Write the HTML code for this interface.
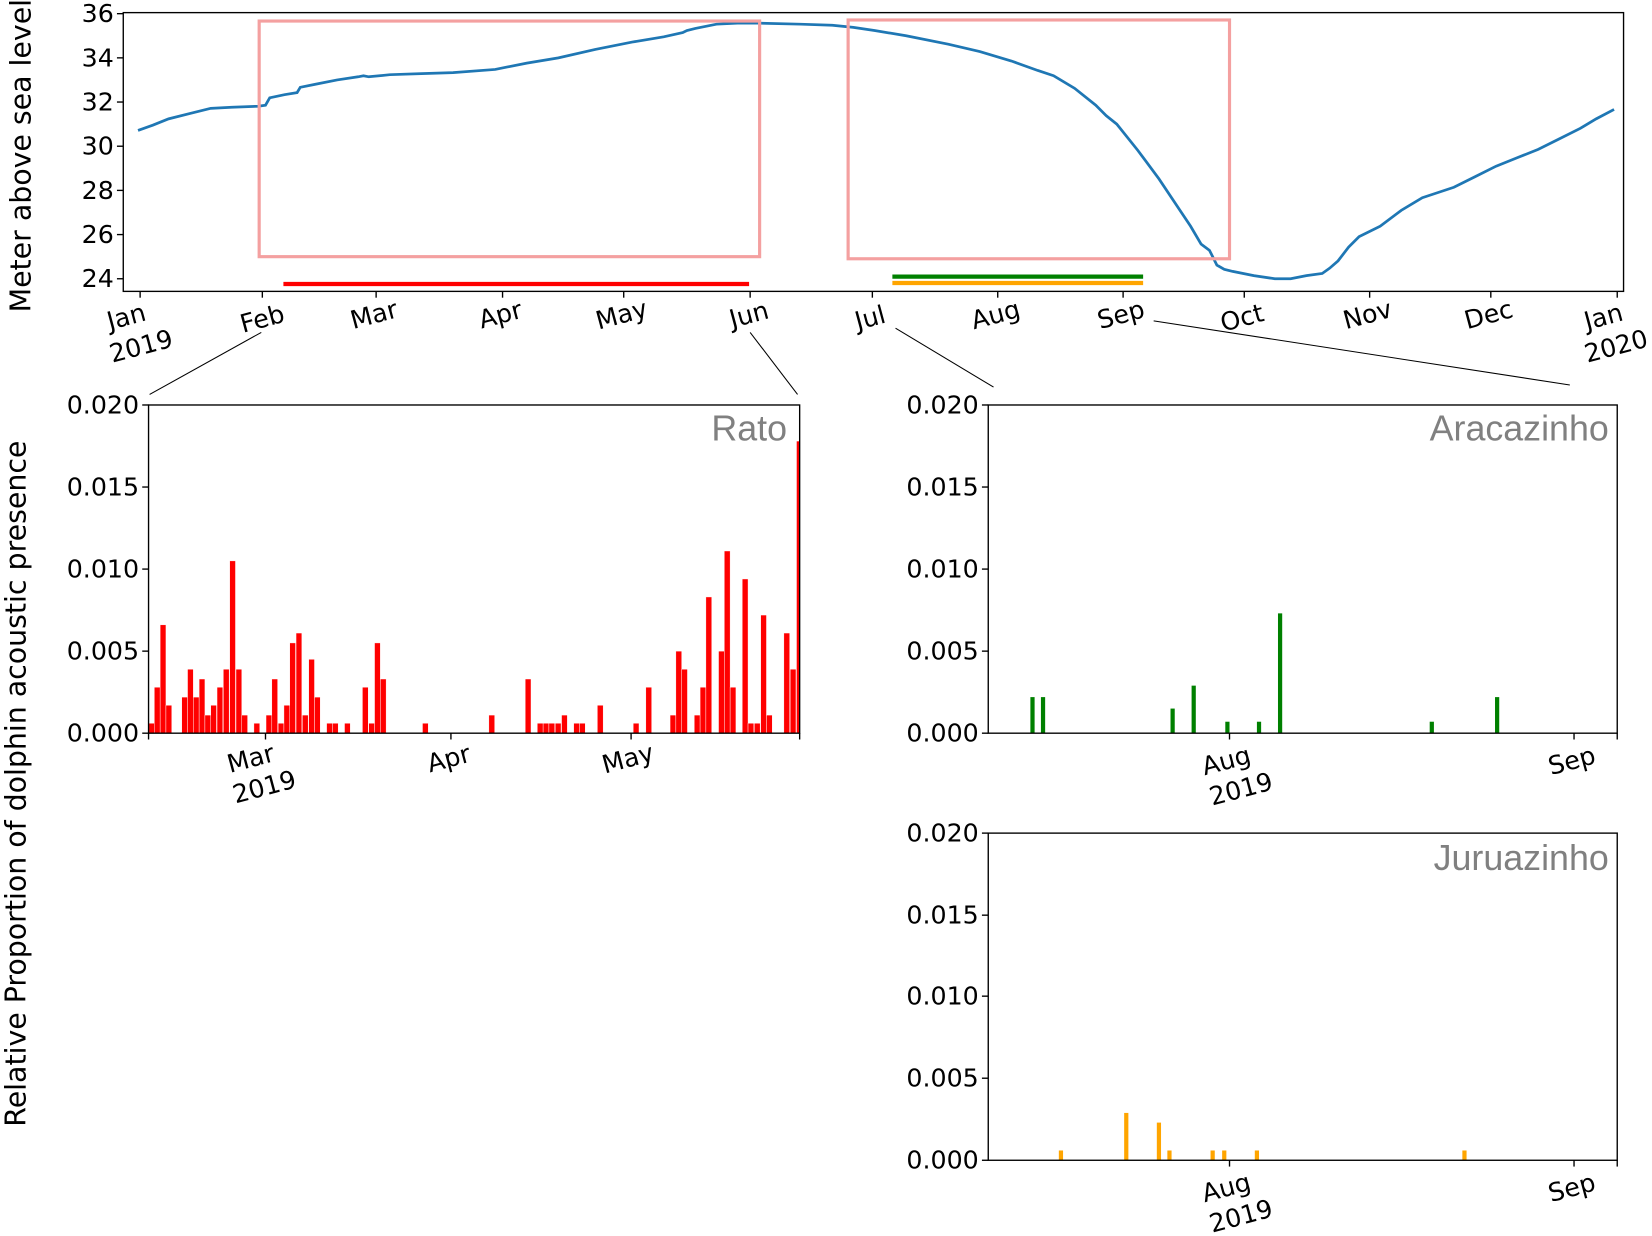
<!DOCTYPE html>
<html><head><meta charset="utf-8"><style>
html,body{margin:0;padding:0;background:#fff;}
svg{display:block;}
text{font-family:"DejaVu Sans","Liberation Sans",sans-serif;fill:#000;}
.t{font-size:24px;}
.site{font-family:"Liberation Sans",sans-serif;font-size:34px;fill:#808080;}
</style></head><body>
<svg width="1652" height="1236" viewBox="0 0 1568 1175" preserveAspectRatio="none" xmlns="http://www.w3.org/2000/svg">
<!-- TOP CHART -->
<rect x="117" y="12" width="1424" height="265" fill="none" stroke="#000" stroke-width="1.3"/>
<g stroke="#000" stroke-width="1.3">
<line x1="111" y1="13" x2="117" y2="13"/><line x1="111" y1="55" x2="117" y2="55"/><line x1="111" y1="97" x2="117" y2="97"/><line x1="111" y1="139" x2="117" y2="139"/><line x1="111" y1="181" x2="117" y2="181"/><line x1="111" y1="223" x2="117" y2="223"/><line x1="111" y1="265" x2="117" y2="265"/>
<line x1="133" y1="277" x2="133" y2="283"/><line x1="249" y1="277" x2="249" y2="283"/><line x1="357" y1="277" x2="357" y2="283"/><line x1="477" y1="277" x2="477" y2="283"/><line x1="592" y1="277" x2="592" y2="283"/><line x1="712" y1="277" x2="712" y2="283"/><line x1="828" y1="277" x2="828" y2="283"/><line x1="947" y1="277" x2="947" y2="283"/><line x1="1066" y1="277" x2="1066" y2="283"/><line x1="1181" y1="277" x2="1181" y2="283"/><line x1="1300" y1="277" x2="1300" y2="283"/><line x1="1415" y1="277" x2="1415" y2="283"/><line x1="1535" y1="277" x2="1535" y2="283"/>
</g>
<g class="t" text-anchor="end">
<text x="108" y="21">36</text><text x="108" y="63">34</text><text x="108" y="105">32</text><text x="108" y="147">30</text><text x="108" y="189">28</text><text x="108" y="231">26</text><text x="108" y="273">24</text>
</g>
<g class="t" text-anchor="middle">
<text transform="translate(122,309) rotate(-15)">Jan</text>
<text transform="translate(136,337) rotate(-15)">2019</text>
<text transform="translate(251,311) rotate(-15)">Feb</text>
<text transform="translate(357,307) rotate(-15)">Mar</text>
<text transform="translate(477,307) rotate(-15)">Apr</text>
<text transform="translate(592,307) rotate(-15)">May</text>
<text transform="translate(713,307) rotate(-15)">Jun</text>
<text transform="translate(828,310) rotate(-15)">Jul</text>
<text transform="translate(947,307) rotate(-15)">Aug</text>
<text transform="translate(1066,307) rotate(-15)">Sep</text>
<text transform="translate(1181,310) rotate(-15)">Oct</text>
<text transform="translate(1300,307) rotate(-15)">Nov</text>
<text transform="translate(1415,307) rotate(-15)">Dec</text>
<text transform="translate(1524,309) rotate(-15)">Jan</text>
<text transform="translate(1536,337) rotate(-15)">2020</text>
</g>
<text transform="translate(29,148) rotate(-90)" text-anchor="middle" style="font-size:27px">Meter above sea level</text>
<polyline fill="none" stroke="#1f77b4" stroke-width="2.6" points="131,124 145,119 160,113 180,108 200,103 220,102 245,101 252,100 256,93 270,90 282,88 285,83 300,80 320,76 340,73 345,72 350,73 370,71 400,70 430,69 470,66 500,60 530,55 565,47 600,40 630,35 648,31 652,29 660,27 680,23 700,22 720,22 760,23 790,24 810,26 830,29 860,34 900,42 930,49 960,58 985,67 1000,72 1020,84 1040,100 1050,110 1060,118 1080,143 1100,170 1120,200 1130,215 1140,232 1148,238 1155,252 1162,256 1170,258 1190,262 1210,265 1225,265 1240,262 1255,260 1262,255 1270,248 1280,235 1290,225 1310,215 1330,200 1350,188 1365,183 1380,178 1400,168 1420,158 1440,150 1460,142 1480,132 1500,122 1515,113 1532,104"/>
<rect x="246" y="20" width="475" height="224" fill="none" stroke="#f4a0a0" stroke-width="3"/>
<rect x="805" y="19" width="362" height="227" fill="none" stroke="#f4a0a0" stroke-width="3"/>
<line x1="269" y1="270" x2="711" y2="270" stroke="#ff0000" stroke-width="4"/>
<line x1="847" y1="263" x2="1085" y2="263" stroke="#008000" stroke-width="4"/>
<line x1="847" y1="269" x2="1085" y2="269" stroke="#ffa500" stroke-width="4"/>
<!-- connectors -->
<g stroke="#000" stroke-width="1">
<line x1="248" y1="316" x2="142" y2="375"/><line x1="712" y1="316" x2="757" y2="375"/>
<line x1="850" y1="312" x2="943" y2="368"/><line x1="1095" y1="305" x2="1490" y2="366"/>
</g>
<text transform="translate(24,745) rotate(-90)" text-anchor="middle" style="font-size:27px">Relative Proportion of dolphin acoustic presence</text>

<!-- RATO -->
<g transform="translate(0,697) scale(1,-1)" fill="#ff0000" stroke="#fff" stroke-width="0.4">
<rect x="141.3" y="0" width="5.5" height="9.4"/><rect x="146.5" y="0" width="5.5" height="43.7"/><rect x="152" y="0" width="5.5" height="103"/><rect x="157.5" y="0" width="5.5" height="26.5"/>
<rect x="172.5" y="0" width="5.5" height="34.3"/><rect x="178" y="0" width="5.5" height="60.8"/><rect x="183.5" y="0" width="5.5" height="34.3"/><rect x="189" y="0" width="5.5" height="51.5"/><rect x="194.5" y="0" width="5.5" height="17.2"/><rect x="200" y="0" width="5.5" height="26.5"/><rect x="206" y="0" width="5.5" height="43.7"/><rect x="212" y="0" width="5.5" height="60.8"/><rect x="218" y="0" width="5.5" height="163.8"/><rect x="224" y="0" width="5.5" height="60.8"/><rect x="229.5" y="0" width="5.5" height="17.2"/>
<rect x="241" y="0" width="5.5" height="9.4"/><rect x="252.5" y="0" width="5.5" height="17.2"/><rect x="258" y="0" width="5.5" height="51.5"/><rect x="264" y="0" width="5.5" height="9.4"/><rect x="269.5" y="0" width="5.5" height="26.5"/><rect x="275" y="0" width="5.5" height="85.8"/><rect x="281" y="0" width="5.5" height="95.2"/><rect x="287" y="0" width="5.5" height="17.2"/><rect x="293" y="0" width="5.5" height="70.2"/><rect x="298.5" y="0" width="5.5" height="34.3"/>
<rect x="310" y="0" width="5.5" height="9.4"/><rect x="315.5" y="0" width="5.5" height="9.4"/><rect x="327" y="0" width="5.5" height="9.4"/><rect x="344" y="0" width="5.5" height="43.7"/><rect x="350" y="0" width="5.5" height="9.4"/><rect x="355.5" y="0" width="5.5" height="85.8"/><rect x="361" y="0" width="5.5" height="51.5"/>
<rect x="401" y="0" width="5.5" height="9.4"/><rect x="464" y="0" width="5.5" height="17.2"/><rect x="498.5" y="0" width="5.5" height="51.5"/>
<rect x="510" y="0" width="5.5" height="9.4"/><rect x="515.5" y="0" width="5.5" height="9.4"/><rect x="521" y="0" width="5.5" height="9.4"/><rect x="527" y="0" width="5.5" height="9.4"/><rect x="533" y="0" width="5.5" height="17.2"/><rect x="544.5" y="0" width="5.5" height="9.4"/><rect x="550" y="0" width="5.5" height="9.4"/><rect x="567" y="0" width="5.5" height="26.5"/>
<rect x="601" y="0" width="5.5" height="9.4"/><rect x="613" y="0" width="5.5" height="43.7"/><rect x="636" y="0" width="5.5" height="17.2"/><rect x="641.5" y="0" width="5.5" height="78"/><rect x="647" y="0" width="5.5" height="60.8"/><rect x="659" y="0" width="5.5" height="17.2"/><rect x="664.5" y="0" width="5.5" height="43.7"/><rect x="670" y="0" width="5.5" height="129.5"/><rect x="682" y="0" width="5.5" height="78"/><rect x="687.5" y="0" width="5.5" height="173.2"/><rect x="693" y="0" width="5.5" height="43.7"/><rect x="704.5" y="0" width="5.5" height="146.6"/><rect x="710" y="0" width="5.5" height="9.4"/><rect x="716" y="0" width="5.5" height="9.4"/><rect x="722" y="0" width="5.5" height="112.3"/><rect x="727.5" y="0" width="5.5" height="17.2"/><rect x="744" y="0" width="5.5" height="95.2"/><rect x="750" y="0" width="5.5" height="60.8"/><rect x="756" y="0" width="3" height="277.7"/>
</g>
<rect x="141" y="385" width="618" height="312" fill="none" stroke="#000" stroke-width="1.3"/>
<g stroke="#000" stroke-width="1.3">
<line x1="135" y1="385" x2="141" y2="385"/><line x1="135" y1="463" x2="141" y2="463"/><line x1="135" y1="541" x2="141" y2="541"/><line x1="135" y1="619" x2="141" y2="619"/><line x1="135" y1="697" x2="141" y2="697"/>
<line x1="141" y1="697" x2="141" y2="703"/><line x1="252" y1="697" x2="252" y2="703"/><line x1="428" y1="697" x2="428" y2="703"/><line x1="599" y1="697" x2="599" y2="703"/><line x1="759" y1="697" x2="759" y2="703"/>
</g>
<g class="t" text-anchor="end">
<text x="132" y="393">0.020</text><text x="132" y="471">0.015</text><text x="132" y="549">0.010</text><text x="132" y="627">0.005</text><text x="132" y="705">0.000</text>
</g>
<g class="t" text-anchor="middle">
<text transform="translate(240,729) rotate(-15)">Mar</text>
<text transform="translate(253,756) rotate(-15)">2019</text>
<text transform="translate(428,729) rotate(-15)">Apr</text>
<text transform="translate(598,729) rotate(-15)">May</text>
</g>
<text class="site" x="747" y="419" text-anchor="end">Rato</text>

<!-- ARACAZINHO -->
<g transform="translate(0,697) scale(1,-1)" fill="#008000">
<rect x="978" y="0" width="4" height="34.3"/><rect x="988" y="0" width="4" height="34.3"/><rect x="1111" y="0" width="4" height="23.4"/><rect x="1131" y="0" width="4" height="45.2"/><rect x="1163" y="0" width="4" height="10.9"/><rect x="1193" y="0" width="4" height="10.9"/><rect x="1213" y="0" width="4" height="113.9"/><rect x="1357" y="0" width="4" height="10.9"/><rect x="1419" y="0" width="4" height="34.3"/>
</g>
<rect x="938" y="385" width="597" height="312" fill="none" stroke="#000" stroke-width="1.3"/>
<g stroke="#000" stroke-width="1.3">
<line x1="932" y1="385" x2="938" y2="385"/><line x1="932" y1="463" x2="938" y2="463"/><line x1="932" y1="541" x2="938" y2="541"/><line x1="932" y1="619" x2="938" y2="619"/><line x1="932" y1="697" x2="938" y2="697"/>
<line x1="1167" y1="697" x2="1167" y2="703"/><line x1="1494" y1="697" x2="1494" y2="703"/><line x1="1535" y1="697" x2="1535" y2="703"/>
</g>
<g class="t" text-anchor="end">
<text x="929" y="393">0.020</text><text x="929" y="471">0.015</text><text x="929" y="549">0.010</text><text x="929" y="627">0.005</text><text x="929" y="705">0.000</text>
</g>
<g class="t" text-anchor="middle">
<text transform="translate(1166,731) rotate(-15)">Aug</text>
<text transform="translate(1180,758) rotate(-15)">2019</text>
<text transform="translate(1494,731) rotate(-15)">Sep</text>
</g>
<text class="site" x="1527" y="419" text-anchor="end">Aracazinho</text>

<!-- JURUAZINHO -->
<g transform="translate(0,1103) scale(1,-1)" fill="#ffa500">
<rect x="1005" y="0" width="4" height="9.3"/><rect x="1067" y="0" width="4" height="45"/><rect x="1098" y="0" width="4" height="35.8"/><rect x="1108" y="0" width="4" height="9.3"/><rect x="1149" y="0" width="4" height="9.3"/><rect x="1160" y="0" width="4" height="9.3"/><rect x="1191" y="0" width="4" height="9.3"/><rect x="1388" y="0" width="4" height="9.3"/>
</g>
<rect x="938" y="792" width="597" height="311" fill="none" stroke="#000" stroke-width="1.3"/>
<g stroke="#000" stroke-width="1.3">
<line x1="932" y1="792" x2="938" y2="792"/><line x1="932" y1="870" x2="938" y2="870"/><line x1="932" y1="947" x2="938" y2="947"/><line x1="932" y1="1025" x2="938" y2="1025"/><line x1="932" y1="1103" x2="938" y2="1103"/>
<line x1="1167" y1="1103" x2="1167" y2="1109"/><line x1="1494" y1="1103" x2="1494" y2="1109"/><line x1="1535" y1="1103" x2="1535" y2="1109"/>
</g>
<g class="t" text-anchor="end">
<text x="929" y="800">0.020</text><text x="929" y="878">0.015</text><text x="929" y="955">0.010</text><text x="929" y="1033">0.005</text><text x="929" y="1111">0.000</text>
</g>
<g class="t" text-anchor="middle">
<text transform="translate(1166,1137) rotate(-15)">Aug</text>
<text transform="translate(1180,1164) rotate(-15)">2019</text>
<text transform="translate(1494,1137) rotate(-15)">Sep</text>
</g>
<text class="site" x="1527" y="827" text-anchor="end">Juruazinho</text>
</svg>
</body></html>
